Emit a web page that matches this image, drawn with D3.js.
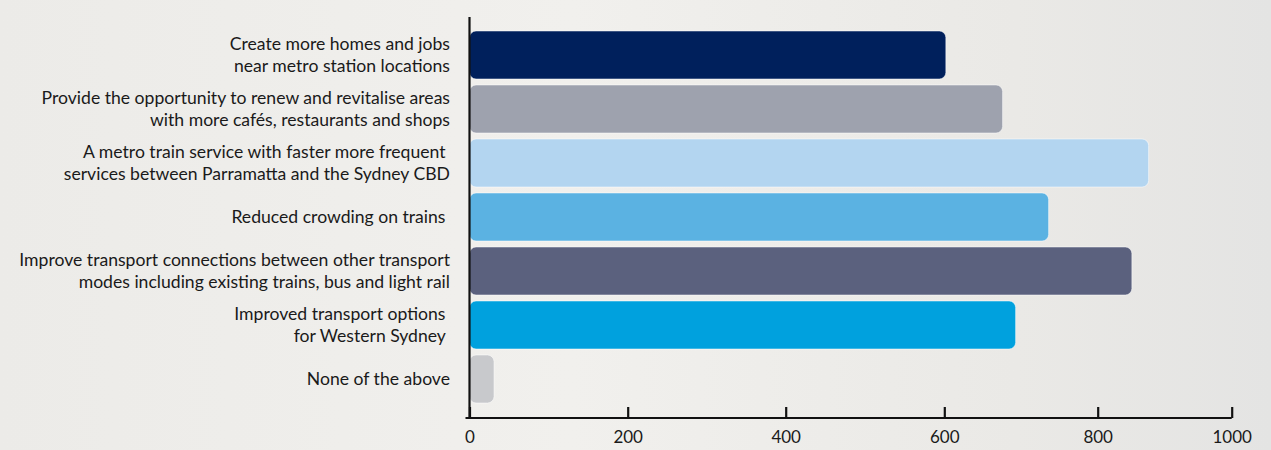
<!DOCTYPE html>
<html>
<head>
<meta charset="utf-8">
<script src="https://cdn.jsdelivr.net/npm/d3@7"></script>
<style>
  html, body { margin: 0; padding: 0; }
  body { width: 1271px; height: 450px; overflow: hidden; }
  text { font-family: Lato, "Open Sans", sans-serif; fill: #1a1a1a; white-space: pre; }
</style>
</head>
<body>
<svg id="chart" width="1271" height="450"></svg>
<script>
// answers, top to bottom (line breaks as printed)
var categories = [
  "Create more homes and jobs\nnear metro station locations",
  "Provide the opportunity to renew and revitalise areas\nwith more cafés, restaurants and shops",
  "A metro train service with faster more frequent \nservices between Parramatta and the Sydney CBD",
  "Reduced crowding on trains ",
  "Improve transport connections between other transport\nmodes including existing trains, bus and light rail",
  "Improved transport options \nfor Western Sydney ",
  "None of the above"
];
var responses = [602, 676, 876, 736, 851, 693, 31];
var barColors = ["#00205c", "#9ea2ae", "#b3d5f0", "#5bb2e2", "#5b617e", "#00a1de", "#c8c9cc"];
var tickValues = [0, 200, 400, 600, 800, 1000];

var svg = d3.select("#chart");

// faded backdrop standing in for the photo behind the chart
var defs = svg.append("defs");
var bg = defs.append("linearGradient").attr("id", "bg").attr("x1", 0).attr("x2", 1).attr("y1", 0).attr("y2", 0);
bg.append("stop").attr("offset", "0%").attr("stop-color", "#ecebe8");
bg.append("stop").attr("offset", "45%").attr("stop-color", "#f1f0ed");
bg.append("stop").attr("offset", "80%").attr("stop-color", "#eae9e6");
bg.append("stop").attr("offset", "100%").attr("stop-color", "#e4e4e3");
svg.append("rect").attr("width", 1271).attr("height", 450).attr("fill", "url(#bg)");

// the printed axis is squeezed past 800, so each tick gets its own stop
var x = d3.scaleLinear()
  .domain(tickValues)
  .range([469.5, 627.7, 785.7, 944.3, 1097.7, 1231.7]);

var y = d3.scaleBand()
  .domain(categories)
  .range([25, 409])
  .padding(0.111);

var axisY = 418;

svg.append("g").selectAll("rect")
  .data(responses)
  .enter().append("rect")
    .attr("x", x(0))
    .attr("y", function(d, i) { return y(categories[i]); })
    .attr("width", function(d) { return x(d) - x(0); })
    .attr("height", y.bandwidth())
    .attr("rx", 6.5)
    .attr("fill", function(d, i) { return barColors[i]; })
    .attr("stroke", "#ffffff")
    .attr("stroke-opacity", 0.5)
    .attr("stroke-width", 1);

// category labels, right aligned left of the axis
var labels = svg.append("g").attr("font-size", 17.6).attr("text-anchor", "end");
categories.forEach(function(c) {
  var lines = c.split("\n");
  var mid = y(c) + y.bandwidth() / 2;
  var t = labels.append("text").attr("x", 450);
  lines.forEach(function(line, j) {
    t.append("tspan")
      .attr("x", 450)
      .attr("y", mid + (j - (lines.length - 1) / 2) * 22.5)
      .attr("dy", "0.35em")
      .text(line);
  });
});

// bottom axis, ticks pointing up into the plot
var xAxis = d3.axisBottom(x)
  .tickValues(tickValues)
  .tickSize(-11)
  .tickSizeOuter(0)
  .tickPadding(13)
  .tickFormat(d3.format("d"));

var gx = svg.append("g")
  .attr("transform", "translate(0," + axisY + ")")
  .call(xAxis);
gx.select(".domain").attr("stroke", "#111").attr("stroke-width", 2.2)
  .attr("d", "M" + (x(0) - 4) + ",0H" + x(1000));
gx.selectAll(".tick line").attr("stroke", "#111").attr("stroke-width", 2.2);
gx.selectAll(".tick text").attr("font-size", 17).attr("font-family", "Lato, sans-serif").attr("fill", "#1a1a1a");

// vertical axis line
svg.append("line")
  .attr("x1", x(0)).attr("x2", x(0))
  .attr("y1", 17).attr("y2", axisY)
  .attr("stroke", "#111").attr("stroke-width", 2.2);
</script>
</body>
</html>
